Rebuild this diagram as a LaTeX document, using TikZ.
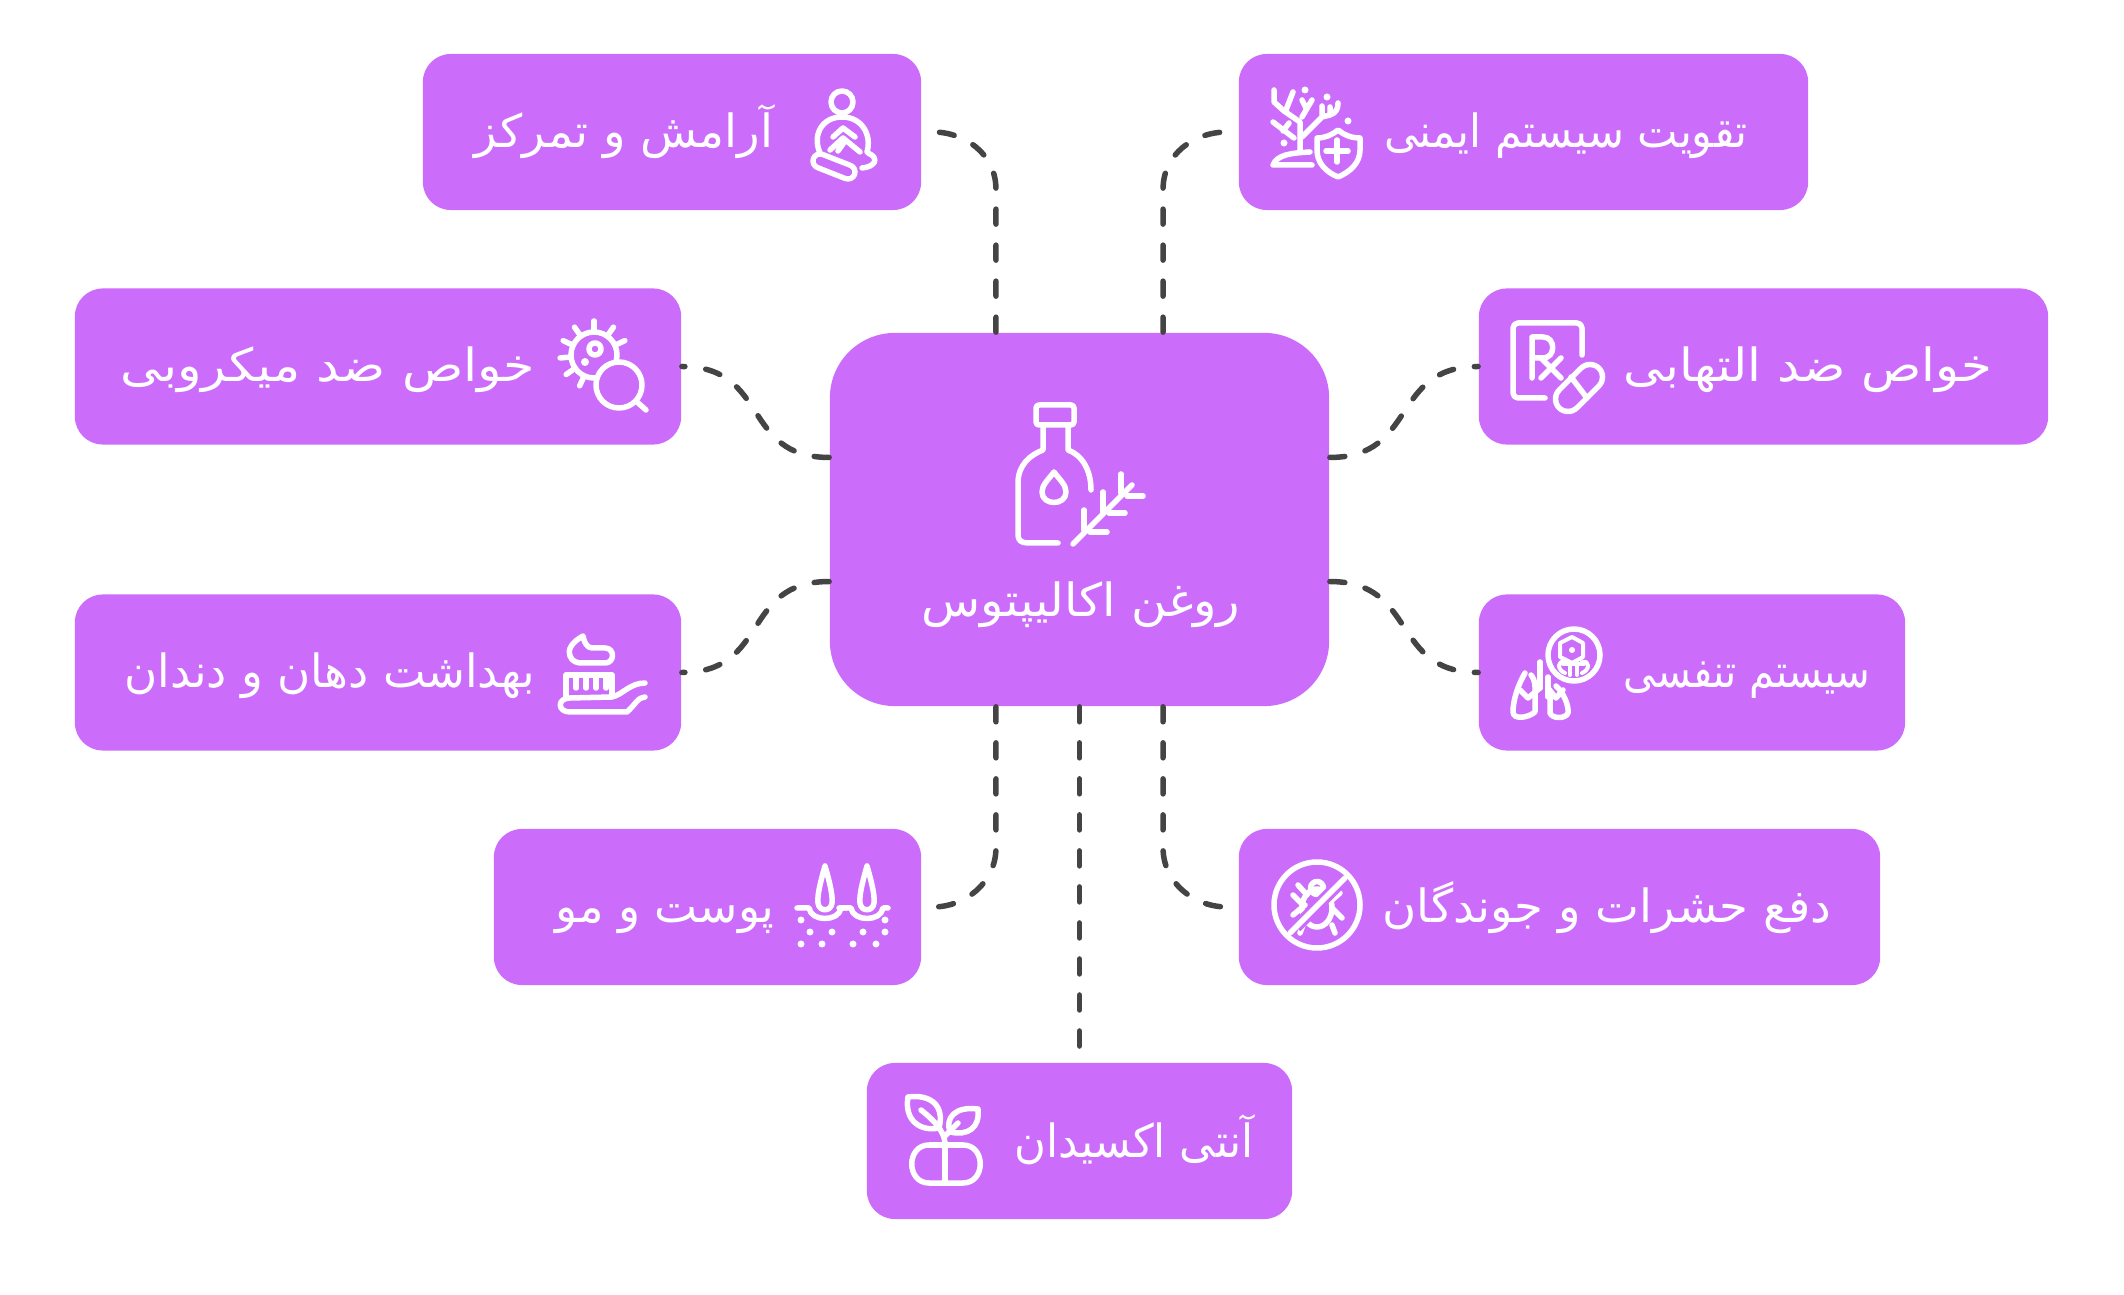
\documentclass[tikz,border=0pt]{standalone}
\usepackage{fontspec}
\usepackage{graphicx}
\usepackage{xcolor}
\usetikzlibrary{positioning}
\newfontfamily\arabicfont[Script=Arabic]{DejaVu Sans}
\TeXXeTstate=1
\definecolor{custom_purple}{HTML}{CC6CFB}
\definecolor{custom_gray}{HTML}{444444}
\newcommand{\fa}[2][1]{\scalebox{#1}[1]{\beginR #2\endR}}
\newcommand{\iconpill}[3]{%
  \draw[icon, line width=#3cm+0.055cm] #1 -- #2;
  \draw[icon, custom_purple, line width=#3cm-0.055cm] #1 -- #2;}
\tikzset{
  topic/.style={fill=custom_purple, rounded corners=0.28cm, inner sep=0pt, minimum height=1.56cm},
  focusbox/.style={fill=custom_purple, rounded corners=0.65cm, inner sep=0pt, minimum width=4.99cm, minimum height=3.73cm},
  label/.style={text=white, inner sep=0pt, anchor=base, font=\arabicfont\fontsize{13}{15}\selectfont},
  link/.style={draw=custom_gray, line width=0.055cm, line cap=round, dash pattern=on 0.15cm off 0.21cm},
  icon/.style={draw=white, line width=0.055cm, line cap=round, line join=round},
  gap/.style={shorten >=0.11cm}
}
\begin{document}
\begin{tikzpicture}[x=0.01cm, y=-0.01cm]
  \useasboundingbox (0,0) rectangle (2124,1295);

  % boxes
  \node[focusbox] (focus) at (1079.5,519.5) {};
  \node[topic, minimum width=4.98cm] (calm) at (672,132) {};
  \node[topic, minimum width=5.69cm] (immune) at (1523.5,132) {};
  \node[topic, minimum width=6.06cm] (germ) at (378,366.5) {};
  \node[topic, minimum width=5.69cm] (inflam) at (1763.5,366.5) {};
  \node[topic, minimum width=6.06cm] (mouth) at (378,672.5) {};
  \node[topic, minimum width=4.26cm] (lungs) at (1692,672.5) {};
  \node[topic, minimum width=4.27cm] (skin) at (707.5,907) {};
  \node[topic, minimum width=6.41cm] (insect) at (1559.5,907) {};
  \node[topic, minimum width=4.25cm] (oxid) at (1079.5,1141) {};

  % texts
  \node[label] (focustext) at (1081,617) {\fa[1.06]{روغن اکالیپتوس}};
  \node[label] (calmtext) at (624,148) {\fa[1.02]{آرامش و تمرکز}};
  \node[label] (immunetext) at (1566,148) {\fa[0.94]{تقویت سیستم ایمنی}};
  \node[label] (germtext) at (328,382) {\fa[1.11]{خواص ضد میکروبی}};
  \node[label] (inflamtext) at (1808,382) {\fa[1.09]{خواص ضد التهابی}};
  \node[label] (mouthtext) at (330,688) {\fa[0.99]{بهداشت دهان و دندان}};
  \node[label] (lungstext) at (1747,688) {\fa[0.88]{سیستم تنفسی}};
  \node[label] (skintext) at (665,923) {\fa{پوست و مو}};
  \node[label] (insecttext) at (1607,923) {\fa[1.02]{دفع حشرات و جوندگان}};
  \node[label] (oxidtext) at (1134,1157) {\fa[0.95]{آنتی اکسیدان}};

  % connectors
  \draw[link, gap] ([xshift=-0.835cm]focus.north) -- ++(0,-143) .. controls ++(0,-35) and (965,132) .. (calm.east);
  \draw[link, gap] ([xshift=0.835cm]focus.north) -- ++(0,-143) .. controls ++(0,-35) and (1194,132) .. (immune.west);
  \draw[link] ([yshift=0.62cm]focus.west) to[out=180, in=0, looseness=1.3] (germ.east);
  \draw[link] ([yshift=0.62cm]focus.east) to[out=0, in=180, looseness=1.3] (inflam.west);
  \draw[link] ([yshift=-0.62cm]focus.west) to[out=180, in=0, looseness=1.3] (mouth.east);
  \draw[link] ([yshift=-0.62cm]focus.east) to[out=0, in=180, looseness=1.3] (lungs.west);
  \draw[link, gap] ([xshift=-0.835cm]focus.south) -- ++(0,141) .. controls ++(0,35) and (965,907) .. (skin.east);
  \draw[link, gap] ([xshift=0.835cm]focus.south) -- ++(0,141) .. controls ++(0,35) and (1194,907) .. (insect.west);
  \draw[link, gap] (focus.south) -- (oxid.north);

  % bottle
  \draw[icon, rounded corners=0.03cm] (1036,405) rectangle (1074,425);
  \draw[icon] (1058,543) -- (1028,543) .. controls (1021,543) and (1018,540) .. (1018,535) -- (1018,483)
    .. controls (1018,465) and (1030,455) .. (1043,450) -- (1043,425);
  \draw[icon] (1068,425) -- (1068,450) .. controls (1082,455) and (1091,470) .. (1091,490);
  \draw[icon] (1054,472) .. controls (1048,480) and (1042,485) .. (1042,492)
    .. controls (1042,506) and (1066,506) .. (1066,492) .. controls (1066,485) and (1060,480) .. cycle;
  \draw[icon] (1073,544) -- (1132,485);
  \draw[icon] (1084,510) -- (1084,530) (1103,492) -- (1103,512) (1121,474) -- (1121,493);
  \draw[icon] (1090,532) -- (1107,532) (1109,513) -- (1125,513) (1127,496) -- (1143,496);

  % meditation
  \draw[icon] (842,102) circle (11);
  \draw[icon] (820,153) .. controls (812,135) and (822,117) .. (842,117) .. controls (862,117) and (872,135) .. (867,152);
  \draw[icon] (868,153) .. controls (880,158) and (875,167) .. (862,168);
  \draw[icon] (833,137) -- (843,128) -- (855,137) (830,150) -- (843,138) -- (860,152) (845,141) -- (838,151);
  \iconpill{(820,161)}{(848,172)}{0.14}

  % tree and shield
  \draw[icon] (1300,152) -- (1300,122) -- (1284,111) -- (1274,102) -- (1274,90) (1286,110) -- (1293,92);
  \draw[icon] (1302,117) -- (1312,100) (1302,100) -- (1306,108);
  \draw[icon] (1302,137) -- (1322,117) -- (1330,115) .. controls (1336,113) and (1338,109) .. (1338,103) (1322,117) -- (1322,106) (1330,114) -- (1330,107);
  \draw[icon] (1273,122) -- (1294,138) (1289,123) -- (1283,131);
  \draw[icon] (1273,165) -- (1312,165) (1273,165) .. controls (1277,155) and (1290,153) .. (1310,152);
  \fill[white] (1305,90) circle (3.5) (1327,97) circle (3.5) (1348,121) circle (3.5) (1284,143) circle (3.5);
  \draw[icon, fill=custom_purple] (1338,130) .. controls (1332,135) and (1325,138) .. (1317,138)
    -- (1317,150) .. controls (1317,163) and (1326,172) .. (1338,177)
    .. controls (1350,172) and (1360,163) .. (1360,150) -- (1360,138) .. controls (1351,138) and (1344,135) .. cycle;
  \draw[icon] (1337,140) -- (1337,162) (1326,151) -- (1348,151);

  % virus under a lens
  \draw[icon] (594,355) circle (23);
  \foreach \a in {270,235,305,335,205,175,145,115}
    \draw[icon, shift={(594,355)}] (\a:23) -- (\a:34);
  \draw[icon] (595,349) circle (6);
  \fill[white] (585,362) circle (4);
  \draw[icon, fill=custom_purple] (619,385) circle (23);
  \draw[icon] (637,402) -- (646,410);

  % toothbrush
  \draw[icon] (583,636) .. controls (572,642) and (567,650) .. (570,656) .. controls (572,662) and (578,663) .. (582,663)
    -- (605,663) .. controls (615,663) and (615,648) .. (605,648) -- (592,648) .. controls (587,648) and (584,642) .. cycle;
  \draw[icon] (566,698) -- (566,675) -- (612,675) -- (612,695);
  \foreach \x in {576,586,596,606}
    \draw[icon] (\x,677) -- (\x,688);
  \draw[icon] (645,683) .. controls (630,683) and (622,695) .. (612,697) -- (570,698) .. controls (557,698) and (557,712) .. (570,712)
    -- (627,712) .. controls (635,705) and (638,697) .. (645,697);

  % lungs and molecule
  \draw[icon] (1525,673) .. controls (1518,685) and (1513,700) .. (1513,712) .. controls (1513,720) and (1528,718) .. (1535,712) -- (1535,687) .. controls (1535,682) and (1533,677) .. (1531,675);
  \draw[icon] (1550,697) -- (1550,713) .. controls (1552,719) and (1566,719) .. (1568,713) .. controls (1569,705) and (1563,692) .. (1556,686);
  \draw[icon] (1540,662) -- (1540,688) (1548,677) -- (1548,697);
  \draw[icon] (1540,688) -- (1528,698) (1548,688) -- (1556,698) (1520,690) -- (1528,698) (1563,690) -- (1556,698);
  \draw[icon, fill=custom_purple] (1574,655) circle (26);
  \draw[icon, line width=0.04cm] (1572,637) -- (1583,643) -- (1583,657) -- (1572,663) -- (1560,657) -- (1560,643) -- cycle;
  \fill[white] (1572,650) circle (3);
  \draw[icon, line width=0.04cm] (1570,663) -- (1570,675) (1577,663) -- (1577,675) (1563,664) -- (1584,664);
  \draw[icon, line width=0.04cm] (1565,662) .. controls (1557,660) and (1557,670) .. (1565,673) (1582,662) .. controls (1590,660) and (1590,670) .. (1582,673);

  % bug in a ban sign
  \draw[icon] (1317,905) circle (43);
  \draw[icon] (1317,888) circle (6.5);
  \draw[icon] (1317,908) ellipse (15 and 19);
  \draw[icon] (1293,895) -- (1303,905) (1298,885) -- (1307,895) (1293,915) -- (1305,905) (1300,933) -- (1303,925);
  \draw[icon] (1340,893) -- (1332,900) (1342,918) -- (1332,908) (1335,933) -- (1332,925);
  \draw[custom_purple, line width=0.12cm] (1296,927) -- (1340,883);
  \draw[icon] (1290,933) -- (1345,878);

  % hair and skin
  \foreach \x in {825,867} {
    \draw[icon] (\x,866) .. controls (\x-4,880) and (\x-8,895) .. (\x-7,903)
      .. controls (\x-6,912) and (\x+6,912) .. (\x+7,903) .. controls (\x+8,895) and (\x+4,880) .. cycle;
    \draw[icon] (\x-28,908) -- (\x-16,908) .. controls (\x-14,922) and (\x+14,922) .. (\x+16,908) -- (\x+21,908);
  }
  \foreach \x/\y in {801/920,885/920,810/932,832/932,863/932,885/932,801/944,822/944,853/944,876/944}
    \fill[white] (\x,\y) circle (3.5);

  % prescription and pill
  \draw[icon, rounded corners=0.05cm] (1582,355) -- (1582,323) -- (1513,323) -- (1513,398) -- (1545,398);
  \draw[icon] (1532,378) -- (1532,337) -- (1543,337) .. controls (1556,337) and (1556,358) .. (1543,358) -- (1532,358);
  \draw[icon] (1541,358) -- (1561,378) (1561,358) -- (1541,378);
  \iconpill{(1568,399)}{(1590,377)}{0.25}
  \draw[icon] (1571,377) -- (1587,398);

  % sprout and capsule
  \draw[icon] (929,1145) -- (963,1145) .. controls (986,1145) and (986,1183) .. (963,1183) -- (929,1183) .. controls (906,1183) and (906,1145) .. cycle;
  \draw[icon] (945,1145) -- (945,1183);
  \draw[icon] (945,1145) .. controls (945,1135) and (940,1125) .. (921,1110) (945,1136) -- (958,1123);
  \draw[icon] (908,1097) .. controls (930,1094) and (945,1105) .. (939,1128) .. controls (920,1132) and (904,1120) .. cycle;
  \draw[icon] (978,1109) .. controls (955,1106) and (945,1118) .. (950,1132) .. controls (968,1136) and (980,1128) .. cycle;
\end{tikzpicture}
\end{document}
